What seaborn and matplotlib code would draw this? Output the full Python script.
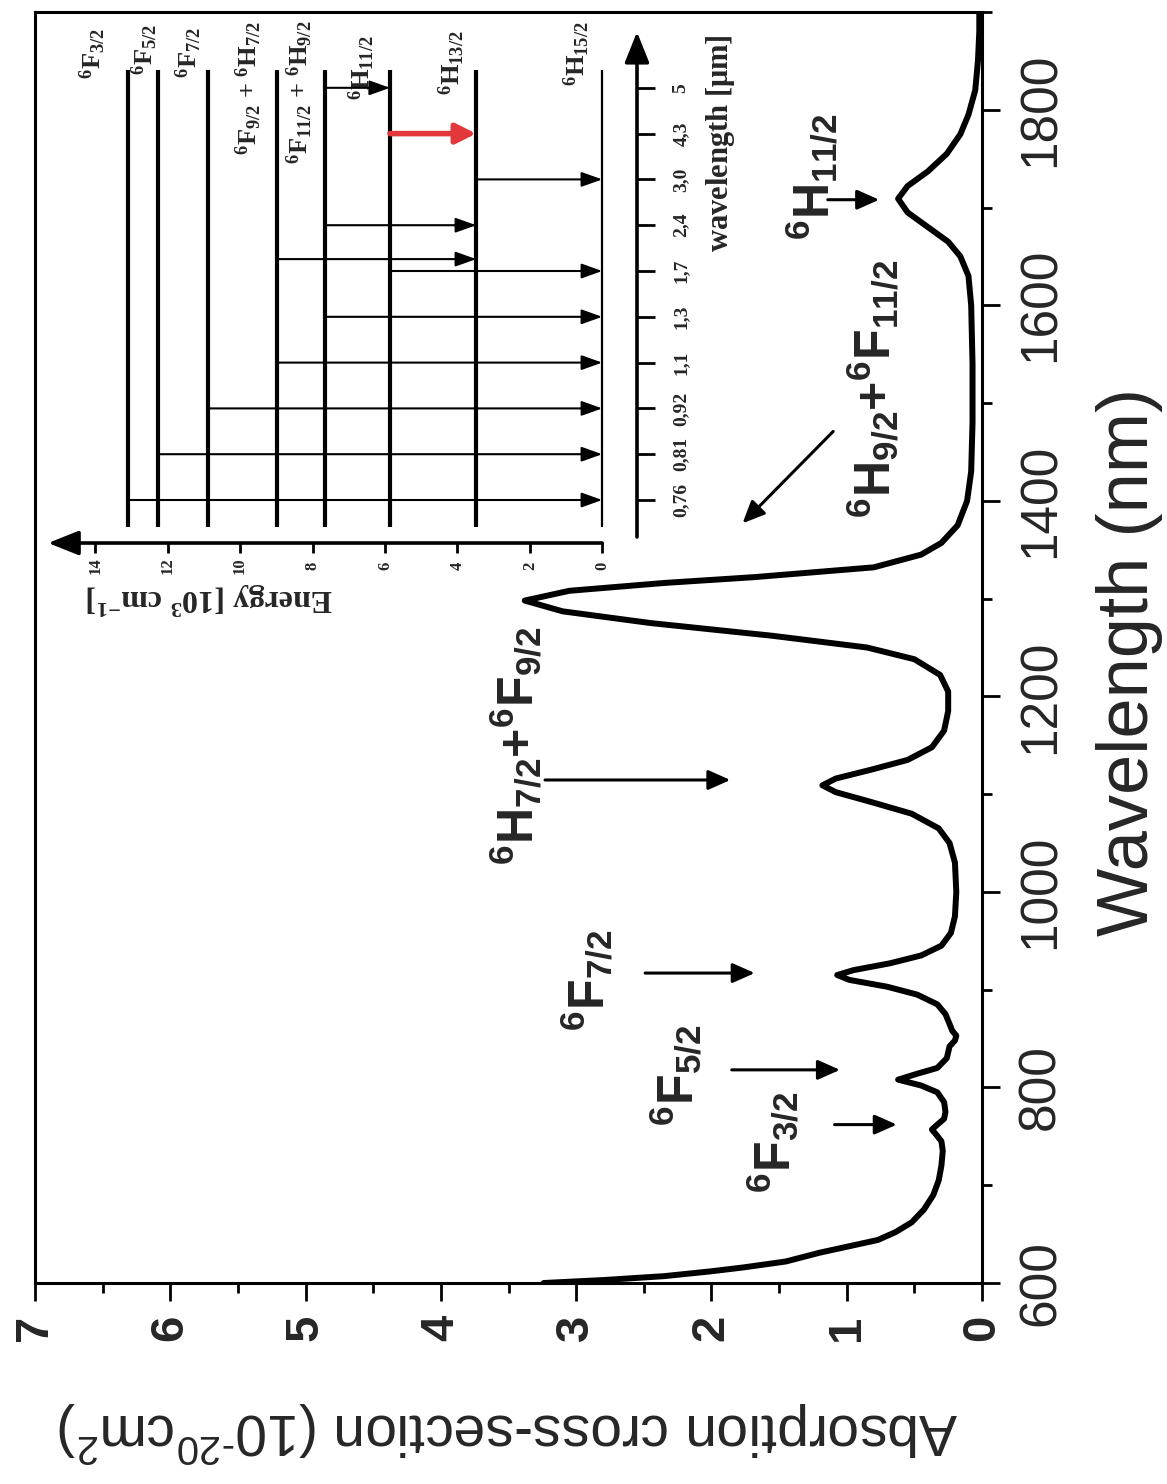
import numpy as np
import pandas as pd
import matplotlib
matplotlib.use("Agg")
import matplotlib.pyplot as plt
import seaborn as sns
from matplotlib.ticker import MultipleLocator

# ------------------------------------------------------------------ data
wavelength_nm = [600, 603, 607, 612, 616, 622, 631, 644, 652, 662, 675, 690, 705, 720,
                 735, 745, 752, 757, 762, 768, 775, 785, 795, 802, 808, 814, 820, 830,
                 842, 848, 853, 858, 865, 875, 885, 895, 903, 910, 915, 920, 927, 935,
                 945, 958, 975, 1000, 1030, 1050, 1065, 1080, 1092, 1102, 1109, 1116,
                 1125, 1135, 1148, 1165, 1185, 1205, 1222, 1238, 1250, 1262, 1275, 1287,
                 1298, 1308, 1316, 1322, 1332, 1345, 1357, 1375, 1400, 1430, 1480, 1540,
                 1600, 1630, 1650, 1665, 1680, 1695, 1709, 1722, 1737, 1755, 1775, 1795,
                 1820, 1850, 1880, 1900]
cross_section = [3.24, 2.80, 2.35, 2.00, 1.76, 1.45, 1.20, 0.77, 0.64, 0.52, 0.43, 0.36,
                 0.32, 0.30, 0.29, 0.30, 0.34, 0.37, 0.33, 0.28, 0.27, 0.28, 0.33, 0.45,
                 0.62, 0.48, 0.33, 0.26, 0.24, 0.20, 0.19, 0.22, 0.24, 0.27, 0.33, 0.48,
                 0.70, 0.98, 1.07, 0.95, 0.68, 0.45, 0.30, 0.23, 0.20, 0.19, 0.20, 0.24,
                 0.32, 0.52, 0.82, 1.08, 1.18, 1.08, 0.82, 0.55, 0.37, 0.28, 0.25, 0.25,
                 0.31, 0.50, 0.85, 1.55, 2.45, 3.10, 3.38, 3.05, 2.35, 1.68, 0.80, 0.45,
                 0.30, 0.18, 0.11, 0.08, 0.07, 0.07, 0.08, 0.10, 0.16, 0.25, 0.40, 0.55,
                 0.62, 0.55, 0.40, 0.26, 0.16, 0.10, 0.05, 0.03, 0.02, 0.02]

peak_labels = [r"$^{6}$F$_{3/2}$", r"$^{6}$F$_{5/2}$", r"$^{6}$F$_{7/2}$",
               r"$^{6}$H$_{7/2}$+$^{6}$F$_{9/2}$", r"$^{6}$H$_{9/2}$+$^{6}$F$_{11/2}$",
               r"$^{6}$H$_{11/2}$"]

# energy-level inset (energies in 10^3 cm^-1)
level_names = [r"$^{6}$H$_{15/2}$", r"$^{6}$H$_{13/2}$", r"$^{6}$H$_{11/2}$",
               r"$^{6}$F$_{11/2}$ + $^{6}$H$_{9/2}$", r"$^{6}$F$_{9/2}$ + $^{6}$H$_{7/2}$",
               r"$^{6}$F$_{7/2}$", r"$^{6}$F$_{5/2}$", r"$^{6}$F$_{3/2}$"]
level_energy = [0.0, 3.48, 5.86, 7.65, 8.98, 10.9, 12.27, 13.1]
energy_ticks = [0, 2, 4, 6, 8, 10, 12, 14]
inset_wl_labels = ["0,76", "0,81", "0,92", "1,1", "1,3", "1,7", "2,4", "3,0", "4,3", "5"]
trans_upper = [13.1, 12.27, 10.9, 8.98, 7.65, 5.86, 8.98, 7.65, 3.48, 5.86, 7.65]
trans_lower = [0.0, 0.0, 0.0, 0.0, 0.0, 0.0, 3.48, 3.48, 0.0, 3.48, 5.86]
trans_slot = [0, 1, 2, 3, 4, 5, 5.26, 6, 7, 8, 9]
trans_red = [False, False, False, False, False, False, False, False, False, True, False]

# ------------------------------------------------------------------ style
sns.set_theme(style="ticks")
plt.rcParams["font.family"] = ["Liberation Sans", "DejaVu Sans"]
plt.rcParams["mathtext.default"] = "regular"

W, H = 1167, 1484
fig = plt.figure(figsize=(W / 100, H / 100), dpi=100)
fig.patch.set_facecolor("white")


def px_rect(l, t, r, b):
    return [l / W, 1 - b / H, (r - l) / W, (b - t) / H]


# ------------------------------------------------------------------ main axes (rotated view)
ax = fig.add_axes(px_rect(35, 12, 982, 1283))
df = pd.DataFrame({"wavelength": wavelength_nm, "sigma": cross_section})
sns.lineplot(data=df, x="sigma", y="wavelength", sort=False, estimator=None,
             color="black", lw=4.3, ax=ax)
ax.set_xlim(7, 0)
ax.set_ylim(600, 1900)
for s in ax.spines.values():
    s.set_visible(True)
    s.set_linewidth(2.2)
    s.set_color("black")

ax.xaxis.set_major_locator(MultipleLocator(1))
ax.xaxis.set_minor_locator(MultipleLocator(0.5))
ax.yaxis.set_major_locator(MultipleLocator(200))
ax.yaxis.set_minor_locator(MultipleLocator(100))
ax.yaxis.tick_right()
ax.tick_params(axis="x", which="both", bottom=True, top=False, direction="out",
               width=2.0, color="black")
ax.tick_params(axis="y", which="both", left=False, right=True, direction="out",
               width=2.0, color="black")
ax.tick_params(which="major", length=13)
ax.tick_params(which="minor", length=7)
ax.tick_params(axis="x", labelsize=34, pad=10, labelrotation=90)
ax.tick_params(axis="y", labelsize=37, pad=12)
for lbl in ax.get_xticklabels():
    lbl.set_fontweight("bold")
for lbl in ax.get_yticklabels():
    lbl.set_rotation(90)
    lbl.set_va("center")

ax.set_xlabel("Absorption cross-section (10$^{\u201020}$cm$^{2}$)", fontsize=41, rotation=180)
ax.xaxis.set_label_coords(0.5, -0.117)
ax.xaxis.label.set_va("center")
ax.yaxis.set_label_position("right")
ax.set_ylabel("Wavelength (nm)", fontsize=52, rotation=90)
ax.yaxis.set_label_coords(1.156, 0.489)
ax.yaxis.label.set_va("center")
ax.yaxis.label.set_ha("center")

# peak annotations (value, wavelength) for text and arrows
label_pos = [(1.55, 744), (2.27, 813), (2.93, 910), (3.45, 1150), (0.81, 1514), (1.26, 1732)]
arrow_tail = [(1.09, 762), (1.85, 818), (2.49, 917), (3.23, 1114.5), (1.10, 1471), (1.14, 1708)]
arrow_head = [(0.63, 762), (1.05, 818), (1.68, 917), (1.86, 1114.5), (1.77, 1377), (0.76, 1708)]
for txt, (tx, ty), tail, head in zip(peak_labels, label_pos, arrow_tail, arrow_head):
    ax.text(tx, ty, txt, rotation=90, ha="center", va="center", fontsize=36,
            fontweight="bold", family="Liberation Sans")
    ax.annotate("", xy=head, xytext=tail,
                arrowprops=dict(arrowstyle="-|>,head_length=0.45,head_width=0.2",
                                color="black", lw=2.2, mutation_scale=30,
                                shrinkA=0, shrinkB=0))

# ------------------------------------------------------------------ inset: energy diagram
ins = fig.add_axes(px_rect(40, 10, 760, 620))
ins.set_axis_off()
ins.set_xlim(15.526, -4.358)
ins.set_ylim(-2.620, 10.699)
serif = "Liberation Serif"

k_axis = -0.939
ins.annotate("", xy=(15.30, k_axis), xytext=(0, k_axis),
             arrowprops=dict(arrowstyle="-|>,head_length=0.55,head_width=0.22",
                             color="black", lw=2.6, mutation_scale=34,
                             shrinkA=0, shrinkB=0))
for e in energy_ticks:
    ins.plot([e, e], [k_axis, -1.157], color="black", lw=2.0, solid_capstyle="butt")
    ins.text(e, -1.43, str(e), rotation=90, ha="center", va="center",
             fontsize=12, fontweight="bold", family=serif)
ins.text(10.85, -2.14, r"Energy [10$^{3}$ cm$^{-1}$]", rotation=180, ha="center",
         va="center", fontsize=23, fontweight="bold", family=serif)

e_axis = -0.961
ins.annotate("", xy=(e_axis, 10.22), xytext=(e_axis, -0.808),
             arrowprops=dict(arrowstyle="-|>,head_length=0.55,head_width=0.22",
                             color="black", lw=2.6, mutation_scale=34,
                             shrinkA=0, shrinkB=0))
for i, lab in enumerate(inset_wl_labels):
    ins.plot([e_axis, -1.458], [i, i], color="black", lw=2.0, solid_capstyle="butt")
    ins.text(-2.18, i, lab, rotation=90, ha="center", va="center",
             fontsize=14, fontweight="bold", family=serif)
ins.text(-3.28, 7.79, r"wavelength [$\mu$m]", rotation=90, ha="center", va="center",
         fontsize=22, fontweight="bold", family=serif)

level_lw = [1.6, 3.0, 3.0, 3.0, 3.0, 3.0, 3.0, 3.0]
label_dx = [0.69, 0.66, 0.77, 0.69, 0.77, 0.50, 0.36, 0.97]
label_k = [9.75, 9.56, 9.43, 8.91, 9.00, 9.78, 9.83, 9.76]
for e, name, lw, dx, kk in zip(level_energy, level_names, level_lw, label_dx, label_k):
    ins.plot([e, e], [-0.590, 9.389], color="black", lw=lw, solid_capstyle="butt")
    ins.text(e + dx, kk, name, rotation=90, ha="center", va="center",
             fontsize=19, fontweight="bold", family=serif)

for up, lo, k, red in zip(trans_upper, trans_lower, trans_slot, trans_red):
    if red:
        props = dict(arrowstyle="-|>,head_length=0.6,head_width=0.3", color="#e2383c",
                     lw=4.0, mutation_scale=20, shrinkA=0, shrinkB=0)
    else:
        props = dict(arrowstyle="-|>,head_length=0.7,head_width=0.25", color="black",
                     lw=1.5, mutation_scale=18, shrinkA=0, shrinkB=0)
    ins.annotate("", xy=(lo, k), xytext=(up, k), arrowprops=props)

fig.savefig("out.png", dpi=100, facecolor="white")
